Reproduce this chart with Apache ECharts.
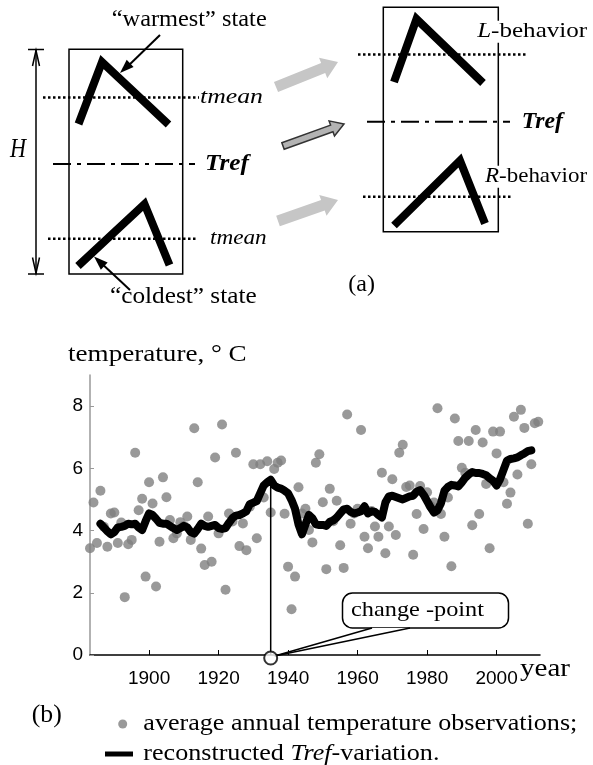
<!DOCTYPE html>
<html><head><meta charset="utf-8">
<script src="https://cdn.jsdelivr.net/npm/echarts@6/dist/echarts.min.js"></script>
<style>html,body{margin:0;padding:0;background:#fff}#c{width:593px;height:765px}</style>
</head><body><div id="c"></div>
<script>
// ---------- data ----------
const obsYears = [1883,1884,1885,1886,1887,1888,1889,1890,1891,1892,1893,1894,1895,1896,1897,1898,1899,1900,1901,1902,1903,1904,1905,1906,1907,1908,1909,1910,1911,1912,1913,1914,1915,1916,1917,1918,1919,1920,1921,1922,1923,1924,1925,1926,1927,1928,1929,1930,1931,1932,1933,1934,1935,1936,1937,1938,1939,1940,1941,1942,1943,1944,1945,1946,1947,1948,1949,1950,1951,1952,1953,1954,1955,1956,1957,1958,1959,1960,1961,1962,1963,1964,1965,1966,1967,1968,1969,1970,1971,1972,1973,1974,1975,1976,1977,1978,1979,1980,1981,1982,1983,1984,1985,1986,1987,1988,1989,1990,1991,1992,1993,1994,1995,1996,1997,1998,1999,2000,2001,2002,2003,2004,2005,2006,2007,2008,2009,2010,2011,2012];
const obsTemp = [3.43,4.90,3.60,5.28,4.12,3.48,4.55,4.58,3.60,4.26,1.86,3.56,3.70,6.50,4.65,5.02,2.52,5.55,4.87,2.20,3.64,5.71,5.07,4.34,3.75,3.91,4.27,4.15,4.45,3.70,7.29,5.55,3.42,2.89,4.45,3.00,6.35,3.91,7.41,2.10,4.55,4.29,6.50,3.50,4.23,3.37,4.77,6.13,3.75,6.13,5.06,6.23,4.58,5.98,6.18,6.25,4.54,2.84,1.47,2.52,5.39,4.55,4.70,4.02,3.62,6.18,6.45,4.91,2.76,5.34,4.30,4.96,3.53,2.80,7.73,4.22,4.55,4.70,7.23,3.80,3.43,4.63,4.13,3.80,5.86,3.27,4.13,5.65,3.86,6.50,6.76,5.40,5.45,3.22,4.53,5.43,4.05,5.23,4.80,4.90,7.93,4.53,3.80,5.06,2.85,7.60,6.88,6.02,5.86,6.88,4.17,7.23,4.53,6.83,5.50,3.43,7.18,6.48,7.18,5.55,4.86,5.22,7.66,5.80,7.88,7.30,4.22,6.13,7.45,7.50];
const trefStartYear = 1886;
const trefTemp = [4.22,4.10,3.98,3.88,3.95,4.10,4.12,4.15,4.22,4.20,4.22,4.10,4.02,4.30,4.55,4.50,4.38,4.25,4.22,4.22,4.15,4.08,4.02,4.08,4.15,4.10,3.95,3.90,4.05,4.22,4.15,4.12,4.15,4.18,4.08,4.05,4.08,4.25,4.40,4.48,4.50,4.55,4.62,4.85,4.90,4.95,5.20,5.45,5.55,5.63,5.45,5.38,5.35,5.28,5.20,4.98,4.70,4.20,3.88,4.20,4.50,4.40,4.20,4.18,4.18,4.15,4.28,4.32,4.42,4.55,4.68,4.70,4.60,4.55,4.58,4.62,4.78,4.55,4.62,4.60,4.50,4.42,4.90,5.10,5.12,5.08,5.04,5.00,5.05,5.10,5.12,5.25,5.30,5.15,4.95,4.75,4.58,4.65,4.88,5.28,5.40,5.47,5.45,5.42,5.55,5.70,5.80,5.88,5.85,5.85,5.82,5.78,5.68,5.60,5.45,5.65,5.95,6.25,6.30,6.32,6.35,6.42,6.48,6.55,6.58];
const changePointYear = 1935;
const xTicks = [1900,1920,1940,1960,1980,2000];
const yTicks = [0,2,4,6,8];

// ---------- build ----------
const SERIF = "'Liberation Serif','Times New Roman',serif";
const SANS = "'Liberation Sans',Arial,sans-serif";
const obsData = obsYears.map((y,i)=>[y, obsTemp[i]]);
const trefData = trefTemp.map((v,i)=>[trefStartYear+i, v]);
const cpTop = trefTemp[changePointYear - trefStartYear];

const chart = echarts.init(document.getElementById('c'));
chart.setOption({
  animation:false,
  grid:{left:90, top:375, width:450, height:280},
  xAxis:{type:'value', min:1883, max:2012.5, offset:4,
    axisLine:{lineStyle:{color:'#000', width:1.5}},
    axisTick:{inside:true, length:5, lineStyle:{color:'#000', width:1}, customValues:xTicks},
    axisLabel:{customValues:xTicks, formatter:v=>String(v), fontFamily:SANS, fontSize:19, color:'#000', margin:10},
    splitLine:{show:false}},
  yAxis:{type:'value', min:0, max:9,
    axisLine:{show:true, lineStyle:{color:'#999', width:1.5}},
    axisTick:{show:true, inside:true, length:4, lineStyle:{color:'#999'}, customValues:yTicks},
    axisLabel:{customValues:yTicks, formatter:v=>String(v), fontFamily:SANS, fontSize:19, color:'#000', margin:7},
    splitLine:{show:false}},
  series:[
    {name:'obs', type:'scatter', data:obsData, symbolSize:10, itemStyle:{color:'#808080'}, z:2},
    {name:'tref', type:'line', data:trefData, showSymbol:false, lineStyle:{color:'#000', width:8, cap:'round', join:'round'}, z:3},
    {name:'cpLine', type:'line', data:[[changePointYear,0],[changePointYear,cpTop]], showSymbol:false, lineStyle:{color:'#000', width:1.5}, z:4},
    {name:'cpMark', type:'scatter', data:[[changePointYear,0]], symbolSize:13, symbolOffset:[0,3], clip:false,
      itemStyle:{color:'#fff', borderColor:'#000', borderWidth:2}, z:20}
  ]
});

// ---------- decorations ----------
const ctx = document.createElement('canvas').getContext('2d');
function fontStr(s, size, fam){ return (s.style||'normal')+' '+(s.weight||'normal')+' '+size+'px '+fam; }
function measure(segs, size, fam){ let w=0; segs.forEach(s=>{ctx.font=fontStr(s,size,fam); w+=ctx.measureText(s.t).width;}); return w; }
function txt(x, cy, segs, size, target, opts){
  opts = opts||{};
  const fam = opts.fam||SERIF;
  const sc = opts.scale || (target ? target/measure(segs,size,fam) : 1);
  const rich = {};
  let str = '';
  segs.forEach((s,i)=>{ rich['s'+i]={fontStyle:s.style||'normal', fontWeight:s.weight||'normal', fontSize:size, fontFamily:fam, fill:'#000'}; str += '{s'+i+'|'+s.t+'}'; });
  const el = {type:'text', x:x, y:cy, scaleX:sc, z:30,
    style:{text:str, rich:rich, fontSize:size, fontFamily:fam, fill:'#000', align:'left', verticalAlign:'middle'}};
  if (opts.bg) { el.style.backgroundColor = '#fff'; el.style.padding=[0,1]; }
  return {el, sc};
}
function arrowPoly(x1,y1,x2,y2,sw,hw,hl){
  const dx=x2-x1, dy=y2-y1, L=Math.hypot(dx,dy), ux=dx/L, uy=dy/L, nx=-uy, ny=ux;
  const bx=x2-ux*hl, by=y2-uy*hl;
  return [[x1+nx*sw/2,y1+ny*sw/2],[bx+nx*sw/2,by+ny*sw/2],[bx+nx*hw/2,by+ny*hw/2],[x2,y2],
          [bx-nx*hw/2,by-ny*hw/2],[bx-nx*sw/2,by-ny*sw/2],[x1-nx*sw/2,y1-ny*sw/2]];
}
function headPoly(x1,y1,x2,y2,hw,hl){
  const dx=x2-x1, dy=y2-y1, L=Math.hypot(dx,dy), ux=dx/L, uy=dy/L, nx=-uy, ny=ux;
  const bx=x2-ux*hl, by=y2-uy*hl;
  return [[x2,y2],[bx+nx*hw/2,by+ny*hw/2],[bx-nx*hw/2,by-ny*hw/2]];
}
const g = [];
const line = (x1,y1,x2,y2,st)=>g.push({type:'line', shape:{x1,y1,x2,y2}, style:Object.assign({stroke:'#000', lineWidth:1.5}, st||{}), z:10});
const poly = (pts,st,z)=>g.push({type:'polyline', shape:{points:pts}, style:Object.assign({stroke:'#000', fill:'none', lineWidth:1.5}, st||{}), z:z||10});
const polygon = (pts,st,z)=>g.push({type:'polygon', shape:{points:pts}, style:Object.assign({fill:'#000'}, st||{}), z:z||10});

// (a) left panel
g.push({type:'rect', shape:{x:69,y:49.3,width:113.7,height:224.7}, style:{fill:'none', stroke:'#000', lineWidth:1.5}, z:10});
const dotted = {lineWidth:2.5, lineDash:[2.5,2.5]};
const dashdot = {lineWidth:2, lineDash:[18,6,4,6]};
line(43,97.5,199,97.5,dotted);
line(48,238.7,196,238.7,dotted);
line(53,164,195,164,dashdot);
poly([[78.5,124],[102,62],[168.5,124.5]],{lineWidth:8, lineJoin:'miter'});
poly([[78,266],[144.5,204],[169.5,265]],{lineWidth:8, lineJoin:'miter'});
// H arrow
line(36,49.5,36,274);
line(28,49.5,44,49.5);
line(28,274,44,274);
poly([[32.5,66],[36,50.5],[39.5,66]]);
poly([[32.5,257.5],[36,273],[39.5,257.5]]);
// annotation arrows
line(160,35,126,68,{lineWidth:2});
polygon(headPoly(160,35,120,73,10,14));
line(130,290,99,261,{lineWidth:2});
polygon(headPoly(130,290,94,256.5,10,14));
// gray transition arrows
polygon(arrowPoly(276,87,338,62,11,22,16),{fill:'#c6c6c6'});
polygon(arrowPoly(283,146,344,124,7,16,13),{fill:'#b3b3b3', stroke:'#333', lineWidth:1.5});
polygon(arrowPoly(278,221,338,200,11,22,16),{fill:'#c6c6c6'});
// right panel
g.push({type:'rect', shape:{x:383.3,y:7.3,width:115,height:224.4}, style:{fill:'none', stroke:'#000', lineWidth:1.5}, z:10});
line(358,54.5,527,54.5,dotted);
line(363,196.7,513,196.7,dotted);
line(367,121.7,510,121.7,dashdot);
poly([[394,82],[416.5,19],[483,83]],{lineWidth:8, lineJoin:'miter'});
poly([[394,225.5],[460,160.5],[485,223.5]],{lineWidth:8, lineJoin:'miter'});

// texts
[
  [111.7,20,[{t:'\u201cwarmest\u201d state'}],23,155],
  [110,296.7,[{t:'\u201ccoldest\u201d state'}],23,146.7],
  [10,150,[{t:'H',style:'italic'}],27,16],
  [200,97,[{t:'tmean',style:'italic'}],21,63],
  [210,238.7,[{t:'tmean',style:'italic'}],21,56.7],
  [205,164,[{t:'Tref',style:'italic',weight:'bold'}],23,44],
  [521.7,121.7,[{t:'Tref',style:'italic',weight:'bold'}],23,41.3],
  [348.3,285,[{t:'(a)'}],24,26.7],
  [68,355,[{t:'temperature, \u00b0 C'}],23,178.7],
  [520,669,[{t:'year'}],26,50],
  [31.7,715,[{t:'(b)'}],25,30],
  [351,610,[{t:'change -point'}],22,133]
].forEach(a=>g.push(txt(a[0],a[1],a[2],a[3],a[4]).el));
g.push(txt(476,31.7,[{t:'L',style:'italic'},{t:'-behavior'}],22,110,{bg:true}).el);
g.push(txt(484,176.7,[{t:'R',style:'italic'},{t:'-behavior'}],22,102,{bg:true}).el);

// legend
const leg1 = txt(143.3,724,[{t:'average annual temperature observations;'}],23,434);
g.push(leg1.el);
g.push(txt(143.3,754,[{t:'reconstructed '},{t:'Tref',style:'italic'},{t:'-variation.'}],23,null,{scale:leg1.sc}).el);
g.push({type:'circle', shape:{cx:122.7, cy:724, r:4.5}, style:{fill:'#999'}, z:10});
g.push({type:'rect', shape:{x:105, y:751.5, width:28, height:5}, style:{fill:'#000'}, z:10});

// callout
const cp = chart.convertToPixel({gridIndex:0}, [changePointYear, 0]);
const tip = [cp[0]+4, cp[1]+1];
g.push({type:'rect', shape:{x:342.5,y:593,width:166,height:35,r:10}, style:{fill:'#fff', stroke:'#000', lineWidth:1.5}, z:10});
polygon([tip,[372.5,628],[409.5,628]],{fill:'#fff'},11);
poly([tip,[372,628]],{lineWidth:1.5},12);
poly([tip,[410,628]],{lineWidth:1.5},12);

chart.setOption({graphic:{elements:g}});
</script></body></html>
